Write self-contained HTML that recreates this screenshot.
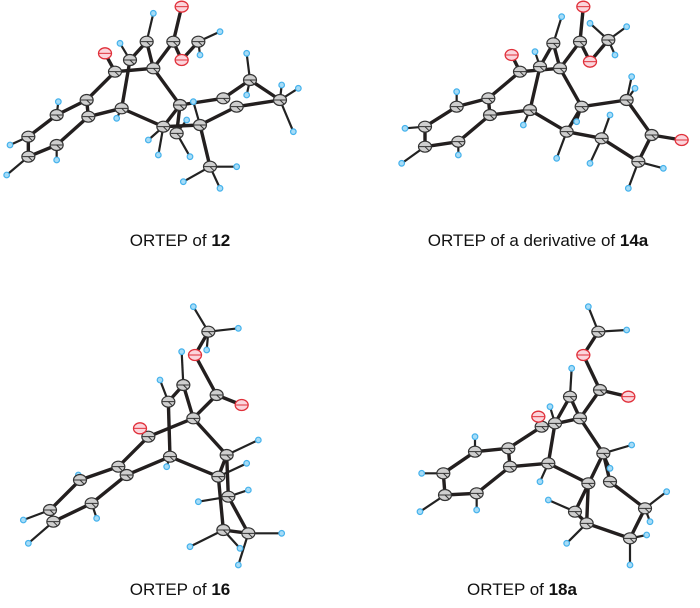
<!DOCTYPE html>
<html><head><meta charset="utf-8"><style>
html,body{margin:0;padding:0;background:#fff;width:700px;height:608px;overflow:hidden}
.l{position:absolute;font-family:"Liberation Sans",Arial,sans-serif;font-size:17px;color:#111;white-space:nowrap;transform:translateX(-50%)}
</style></head><body>
<svg id="s" width="700" height="608" style="position:absolute;left:0;top:0"></svg>
<div class="l" style="left:180px;top:231px">ORTEP of <b>12</b></div>
<div class="l" style="left:538px;top:231px">ORTEP of a derivative of <b>14a</b></div>
<div class="l" style="left:180px;top:580px">ORTEP of <b>16</b></div>
<div class="l" style="left:522px;top:580px">ORTEP of <b>18a</b></div>
<script>
const M=[
{o:[0,0],
C:"85,410 85,470 170,345 170,435 260,300 265,350 345,215 390,180 440,125 460,205 520,125 595,125 365,325 540,315 490,380 530,400 600,375 670,295 750,240 710,320 840,300 630,500",
O:"315,160 545,20 545,180",
B:"85,410,85,470 85,470,170,435 170,435,265,350 265,350,260,300 260,300,170,345 170,345,85,410 260,300,345,215 345,215,315,160 345,215,460,205 265,350,365,325 365,325,390,180 390,180,440,125 440,125,460,205 460,205,520,125 520,125,545,20 520,125,545,180 545,180,595,125 460,205,540,315 365,325,490,380 540,315,490,380 540,315,670,295 490,380,600,375 600,375,710,320 710,320,840,300 670,295,750,240 750,240,840,300 600,375,630,500 540,315,530,400",
H:"460,40,440,125 360,130,390,180 660,95,595,125 600,165,595,125 175,305,170,345 30,435,85,410 20,525,85,470 170,480,170,435 350,355,365,325 740,160,750,240 740,285,750,240 845,255,840,300 895,265,840,300 880,395,840,300 580,305,600,375 445,420,490,380 475,465,490,380 570,470,530,400 560,360,530,400 710,500,630,500 550,545,630,500 660,565,630,500"},
{o:[380,0],
C:"135,380 135,440 230,320 235,425 325,295 330,345 420,215 480,200 520,130 540,205 600,125 685,120 450,330 605,320 560,395 740,300 815,405 775,485 665,415",
O:"395,165 610,20 630,185 905,420",
B:"135,380,135,440 135,440,235,425 235,425,330,345 330,345,325,295 325,295,230,320 230,320,135,380 325,295,420,215 420,215,395,165 420,215,540,205 330,345,450,330 450,330,480,200 480,200,520,130 520,130,540,205 540,205,600,125 600,125,610,20 600,125,630,185 630,185,685,120 540,205,605,320 450,330,560,395 605,320,560,395 605,320,740,300 740,300,815,405 815,405,905,420 815,405,775,485 775,485,665,415 665,415,560,395",
H:"545,50,520,130 465,155,480,200 230,275,230,320 75,385,135,380 65,490,135,440 235,465,235,425 430,375,450,330 530,475,560,395 590,365,605,320 755,230,740,300 765,265,740,300 690,345,665,415 630,490,665,415 850,505,775,485 745,565,775,485 630,70,685,120 740,80,685,120 705,165,685,120"},
{o:[20,300],
C:"90,630 100,665 180,540 215,610 295,500 320,525 385,410 450,470 445,305 490,255 520,355 590,285 565,95 620,465 595,530 625,590 610,690 685,700",
O:"360,385 665,315 525,165",
B:"90,630,100,665 100,665,215,610 215,610,320,525 320,525,295,500 295,500,180,540 180,540,90,630 295,500,385,410 385,410,360,385 385,410,520,355 320,525,450,470 450,470,445,305 445,305,490,255 490,255,520,355 520,355,590,285 590,285,665,315 590,285,525,165 525,165,565,95 520,355,620,465 450,470,595,530 620,465,595,530 595,530,610,690 620,465,625,590 625,590,685,700 610,690,685,700",
H:"485,155,490,255 420,240,445,305 520,20,565,95 655,85,565,95 560,150,565,95 175,525,180,540 10,660,90,630 25,730,100,665 230,655,215,610 440,500,450,470 715,420,620,465 680,490,595,530 535,605,625,590 685,570,625,590 510,740,610,690 660,745,610,690 655,795,685,700 785,700,685,700"},
{o:[400,300],
C:"130,520 135,585 225,455 230,580 325,445 330,500 425,380 465,370 510,290 540,355 600,270 595,95 445,490 610,460 565,550 630,545 735,625 690,715 560,670 525,635",
O:"415,350 685,290 550,165",
B:"130,520,135,585 135,585,230,580 230,580,330,500 330,500,325,445 325,445,225,455 225,455,130,520 325,445,425,380 425,380,415,350 425,380,540,355 330,500,445,490 445,490,465,370 465,370,510,290 510,290,540,355 540,355,600,270 600,270,685,290 600,270,550,165 550,165,595,95 540,355,610,460 445,490,565,550 565,550,560,670 610,460,630,545 630,545,735,625 735,625,690,715 690,715,560,670 560,670,525,635 610,460,525,635",
H:"515,205,510,290 450,320,465,370 565,20,595,95 680,90,595,95 225,410,225,455 65,520,130,520 60,635,135,585 230,630,230,580 420,545,445,490 695,435,610,460 630,505,610,460 800,575,735,625 750,665,735,625 740,705,690,715 690,795,690,715 500,730,560,670 445,600,525,635"}];
let s="";
const P=(t)=>t.trim().split(/\s+/).map(q=>q.split(",").map(Number));
for(const m of M){const [ox,oy]=m.o,f=(x,y)=>[ox+x/3,oy+y/3];
for(const h of P(m.H)){const a=f(h[0],h[1]),b=f(h[2],h[3]);s+=`<line x1="${a[0]}" y1="${a[1]}" x2="${b[0]}" y2="${b[1]}" stroke="#222" stroke-width="2.2"/>`;}
for(const h of P(m.B)){const a=f(h[0],h[1]),b=f(h[2],h[3]);s+=`<line x1="${a[0]}" y1="${a[1]}" x2="${b[0]}" y2="${b[1]}" stroke="#231f1f" stroke-width="3.4"/>`;}
for(const h of P(m.H)){const a=f(h[0],h[1]);s+=`<circle cx="${a[0]}" cy="${a[1]}" r="2.8" fill="#a6dcf7" stroke="#45b2ec" stroke-width="1.2"/>`;}
for(const h of P(m.C)){const a=f(h[0],h[1]);s+=`<ellipse cx="${a[0]}" cy="${a[1]}" rx="6.5" ry="5.5" fill="#cfcfcf" stroke="#333" stroke-width="1.2"/><path d="M${a[0]-6} ${a[1]}h12M${a[0]} ${a[1]}l4 4" stroke="#333" stroke-width="1"/>`;}
for(const h of P(m.O)){const a=f(h[0],h[1]);s+=`<ellipse cx="${a[0]}" cy="${a[1]}" rx="6.5" ry="5.5" fill="#fbd5dc" stroke="#e0303a" stroke-width="1.3"/><path d="M${a[0]-6} ${a[1]}h12" stroke="#e0303a" stroke-width="1"/>`;}
}
document.getElementById("s").innerHTML=s;
</script>
</body></html>
